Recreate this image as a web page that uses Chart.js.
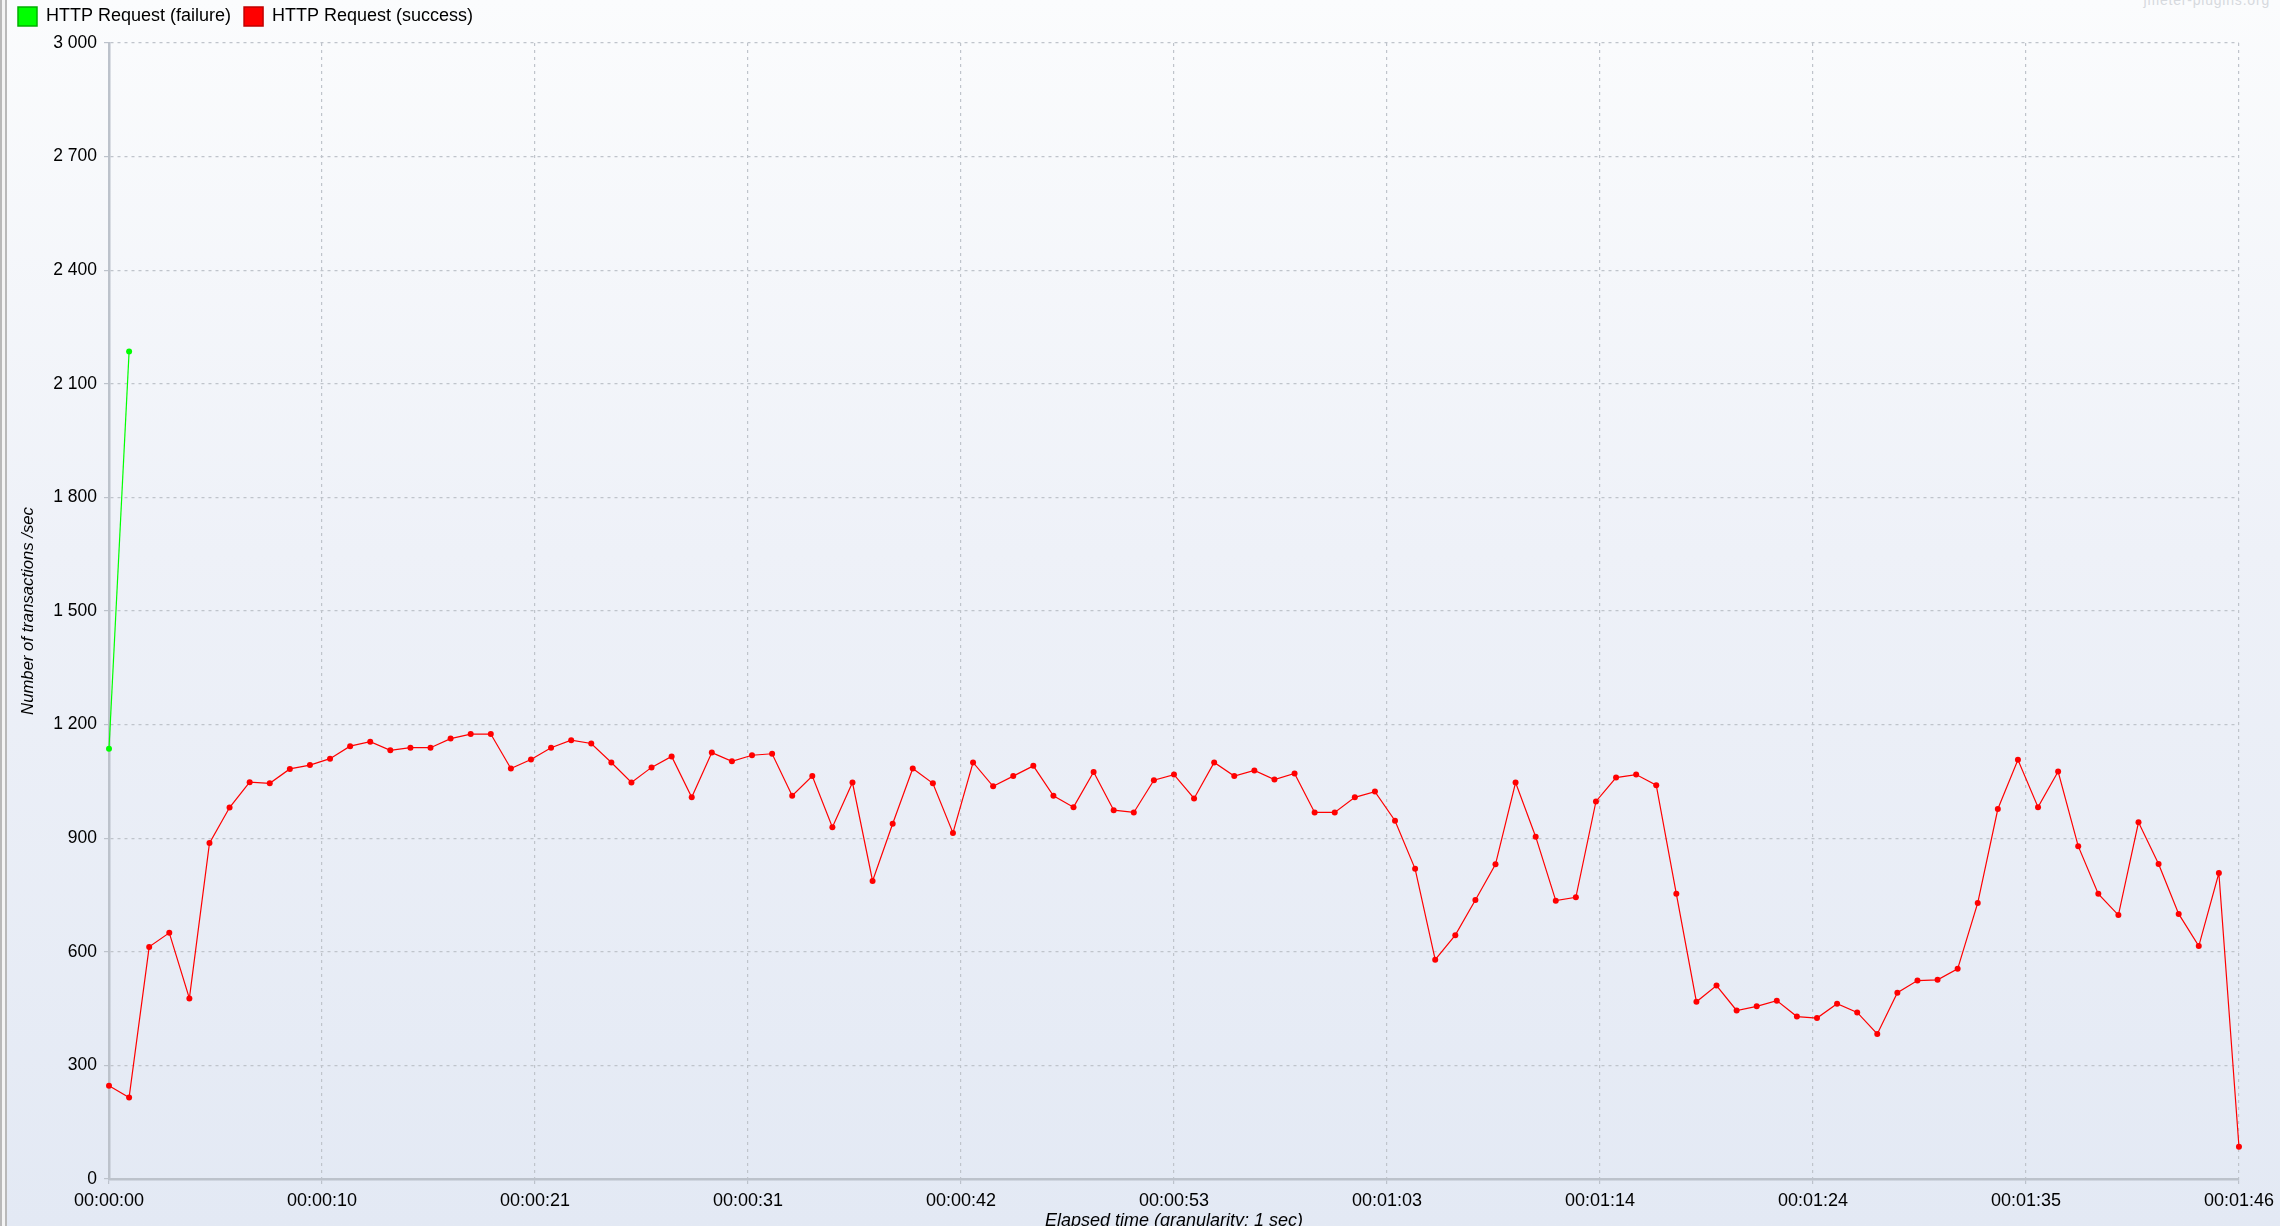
<!DOCTYPE html>
<html>
<head>
<meta charset="utf-8">
<script src="https://cdn.jsdelivr.net/npm/chart.js@4.4.0/dist/chart.umd.min.js"></script>
<style>
  html, body { margin: 0; padding: 0; }
  body {
    width: 2280px; height: 1226px; overflow: hidden; position: relative;
    background: linear-gradient(to bottom, #fbfcfd 0%, #eef1f8 45%, #e3e9f4 100%);
    font-family: "Liberation Sans", Arial, sans-serif;
  }
  #edge {
    position: absolute; left: 0; top: 0; bottom: 0; width: 3px;
    border-left: 2px solid #b9b9b9; border-right: 2px solid #b9b9b9;
    background: #f4f4f4;
  }
  #brand {
    position: absolute; right: 10px; top: -8px;
    font-size: 14px; color: #d6d9de; letter-spacing: 0.8px;
  }
  canvas { position: absolute; left: 0; top: 0; }
</style>
</head>
<body>
<div id="edge"></div>
<div id="brand">jmeter-plugins.org</div>
<canvas id="tpsChart" width="2280" height="1226"></canvas>
<script>
// transactions per second, one value per elapsed second
const failureTps = [1136, 2185];
const successTps = [
  246, 215, 613, 650, 477, 887, 981, 1048, 1045, 1083,
  1093, 1110, 1143, 1155, 1132, 1139, 1139, 1163, 1175, 1175,
  1084, 1108, 1139, 1159, 1150, 1100, 1047, 1087, 1116, 1008,
  1126, 1103, 1119, 1123, 1012, 1064, 929, 1047, 787, 938,
  1084, 1045, 914, 1100, 1037, 1064, 1091, 1012, 982, 1075,
  974, 968, 1053, 1068, 1005, 1100, 1064, 1079, 1055, 1071,
  968, 968, 1008, 1023, 946, 819, 579, 644, 737, 831,
  1047, 904, 735, 744, 997, 1060, 1068, 1040, 753, 468,
  511, 445, 456, 471, 429, 425, 463, 440, 383, 492,
  524, 526, 555, 729, 977, 1107, 982, 1076, 879, 753,
  697, 942, 832, 700, 615, 808, 85
];
const xTickLabels = ['00:00:00', '00:00:10', '00:00:21', '00:00:31', '00:00:42', '00:00:53',
  '00:01:03', '00:01:14', '00:01:24', '00:01:35', '00:01:46'];
const yTicks = [0, 300, 600, 900, 1200, 1500, 1800, 2100, 2400, 2700, 3000];
const seriesNames = ['HTTP Request (failure)', 'HTTP Request (success)'];
const seriesColors = ['#00ff00', '#ff0000'];
const legendEdges = ['#00b000', '#c00000'];

const xMax = successTps.length - 1;
const toPoints = arr => arr.map((v, i) => ({ x: i, y: v }));
const fmtThousands = v => String(v).replace(/\B(?=(\d{3})+(?!\d))/g, ' ');

const fam = '"Liberation Sans", Arial, sans-serif';
const gridColor = '#bfc4cb';
const axisColor = '#bcc2cb';

const ctx = document.getElementById('tpsChart').getContext('2d');
const chart = new Chart(ctx, {
  type: 'line',
  data: {
    datasets: [failureTps, successTps].map((vals, i) => ({
      label: seriesNames[i],
      data: toPoints(vals),
      borderColor: seriesColors[i],
      backgroundColor: seriesColors[i],
      borderWidth: 1.2,
      pointRadius: 3,
      pointBorderWidth: 0,
      pointHoverRadius: 3,
      tension: 0,
      clip: false
    }))
  },
  options: {
    responsive: false,
    animation: false,
    layout: { padding: { left: 8, right: 39, top: 0, bottom: 0 } },
    plugins: {
      tooltip: { enabled: false },
      legend: {
        display: true,
        position: 'top',
        align: 'start',
        labels: {
          boxWidth: 19,
          boxHeight: 19,
          padding: 13,
          color: '#000',
          font: { size: 18, family: fam },
          generateLabels: c => Chart.defaults.plugins.legend.labels.generateLabels(c).map((l, i) => ({
            ...l, fillStyle: seriesColors[i], strokeStyle: legendEdges[i], lineWidth: 1.5
          }))
        }
      }
    },
    scales: {
      x: {
        type: 'linear',
        min: 0,
        max: xMax,
        afterFit: s => { s.height = 47; },
        afterBuildTicks: s => {
          s.ticks = xTickLabels.map((_, i) => ({ value: xMax * i / (xTickLabels.length - 1) }));
        },
        ticks: {
          color: '#000',
          padding: 6,
          maxRotation: 0,
          autoSkip: false,
          font: { size: 18, family: fam },
          callback: (v, i) => xTickLabels[i]
        },
        grid: {
          color: gridColor,
          lineWidth: 1.2,
          tickLength: 5,
          tickColor: axisColor,
          tickBorderDash: []
        },
        border: { display: true, color: axisColor, width: 2.5, dash: [3, 4] },
        title: {
          display: true,
          text: 'Elapsed time (granularity: 1 sec)',
          color: '#000',
          font: { size: 18, style: 'italic', family: fam },
          padding: { top: 0, bottom: -6 }
        }
      },
      y: {
        min: 0,
        max: 3000,
        afterFit: s => { s.width = 101; },
        afterBuildTicks: s => { s.ticks = yTicks.map(v => ({ value: v })); },
        ticks: {
          color: '#000',
          padding: 7,
          font: { size: 17.5, family: fam },
          callback: v => fmtThousands(v)
        },
        grid: {
          color: gridColor,
          lineWidth: 1.2,
          tickLength: 5,
          tickColor: axisColor,
          tickBorderDash: []
        },
        border: { display: true, color: axisColor, width: 2.5, dash: [3, 4] },
        title: {
          display: true,
          text: 'Number of transactions /sec',
          color: '#000',
          font: { size: 16.7, style: 'italic', family: fam },
          padding: { top: 10, bottom: 0 }
        }
      }
    }
  },
  plugins: [{
    id: 'legendNudge',
    afterLayout(c) {
      c.legend.left -= 3;
      c.legend.top -= 6;
    }
  }]
});

// legend band fixed so the plot starts where the reference plot starts
const baseFit = chart.legend.fit;
chart.legend.fit = function () { baseFit.call(this); this.height = 43; };
chart.update();
</script>
</body>
</html>
